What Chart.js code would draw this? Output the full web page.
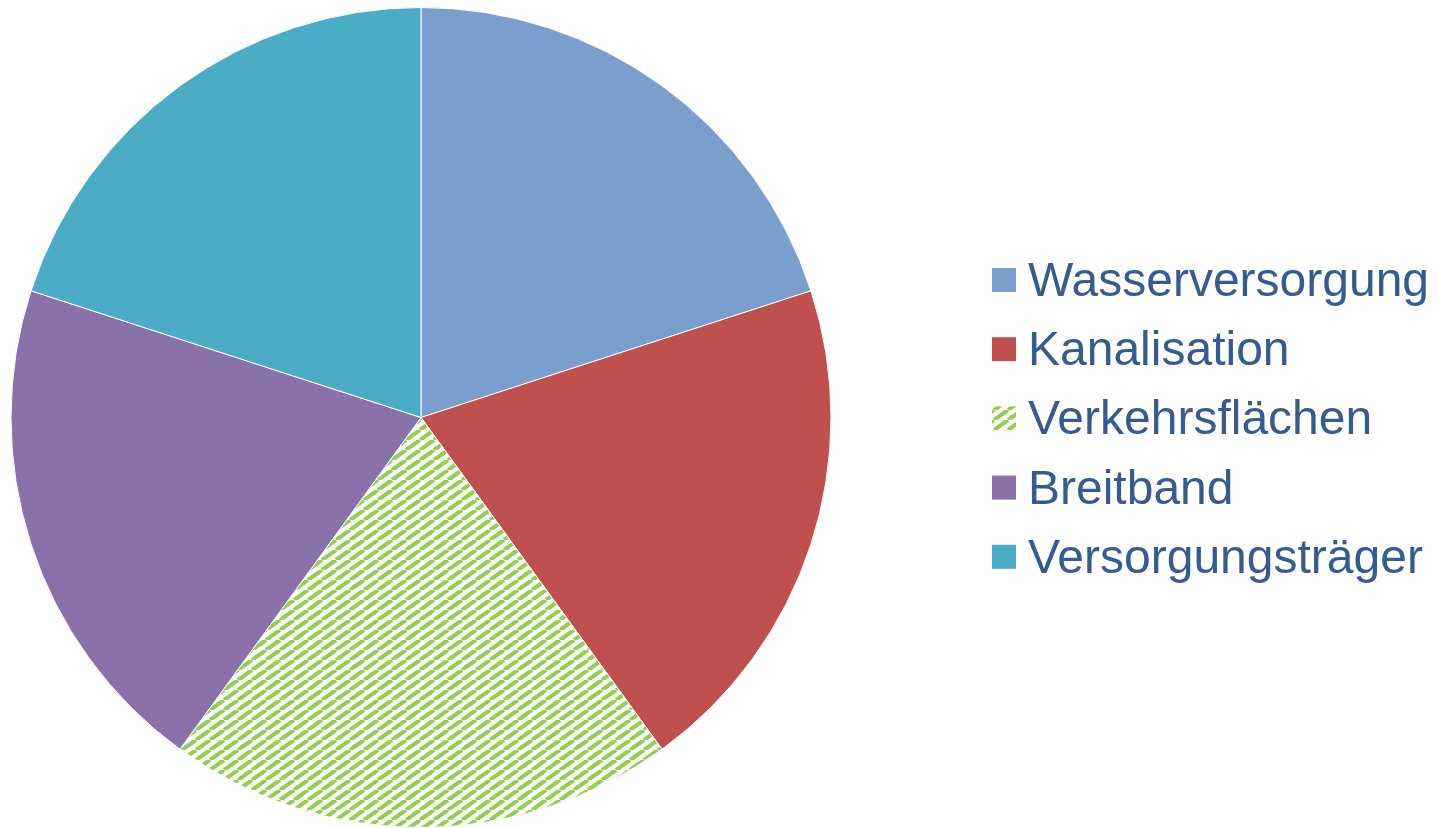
<!DOCTYPE html>
<html>
<head>
<meta charset="utf-8">
<script src="https://cdn.jsdelivr.net/npm/chart.js@4/dist/chart.umd.min.js"></script>
<style>
  html, body { margin: 0; padding: 0; background: #fff; }
  #wrap { width: 1439px; height: 828px; position: relative; }
</style>
</head>
<body>
<div id="wrap"><canvas id="pieChart"></canvas></div>
<script>
const categories = ['Wasserversorgung', 'Kanalisation', 'Verkehrsflächen', 'Breitband', 'Versorgungsträger'];
const shares = [20, 20, 20, 20, 20];
const sliceColors = ['#7B9FCC', '#C0504D', null, '#8A71A9', '#4BACC6'];

// green diagonal hatch for Verkehrsflächen
function makeHatch() {
    const w = 14, h = 10;
    const c = document.createElement('canvas');
    c.width = w; c.height = h;
    const g = c.getContext('2d');
    g.fillStyle = '#fff';
    g.fillRect(0, 0, w, h);
    g.strokeStyle = '#92D050';
    g.lineWidth = 4.2;
    for (let k = -1; k <= 1; k++) {
        g.beginPath();
        g.moveTo(k * w, h);
        g.lineTo(k * w + w, 0);
        g.stroke();
    }
    return g.createPattern(c, 'repeat');
}
const hatch = makeHatch();
const fills = sliceColors.map(c => c || hatch);

// legend drawn by hand so box/text spacing matches
const sideLegend = {
    id: 'sideLegend',
    afterDraw(chart) {
        const ctx = chart.ctx;
        const x = 992, y0 = 280, step = 69.2, box = 24;
        ctx.save();
        ctx.font = '48px "Liberation Sans", Arial, sans-serif';
        ctx.textBaseline = 'alphabetic';
        categories.forEach((name, i) => {
            const cy = y0 + i * step;
            ctx.fillStyle = fills[i];
            ctx.fillRect(x, cy - box / 2, box, box);
            ctx.fillStyle = '#345C90';
            ctx.fillText(name, 1028, cy + 16);
        });
        ctx.restore();
    }
};

new Chart(document.getElementById('pieChart'), {
    type: 'pie',
    data: {
        labels: categories,
        datasets: [{
            data: shares,
            backgroundColor: fills,
            borderColor: '#ffffff',
            borderWidth: 1
        }]
    },
    options: {
        responsive: true,
        maintainAspectRatio: false,
        animation: false,
        layout: { padding: { top: 7, left: 10, right: 607, bottom: 0 } },
        plugins: {
            legend: { display: false },
            tooltip: { enabled: false }
        }
    },
    plugins: [sideLegend]
});
</script>
</body>
</html>
